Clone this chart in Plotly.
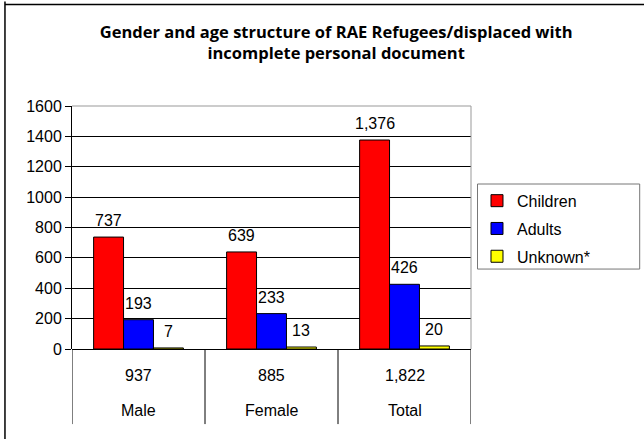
import plotly.graph_objects as go

categories = ["Male", "Female", "Total"]
children = [737, 639, 1376]
adults = [193, 233, 426]
unknown = [7, 13, 20]
series_names = ["Children", "Adults", "Unknown*"]
series_colors = ["#FF0000", "#0000FF", "#FFFF00"]
y_ticks = [0, 200, 400, 600, 800, 1000, 1200, 1400, 1600]

series_values = [children, adults, unknown]
totals = [sum(v) for v in zip(children, adults, unknown)]

W = 0.225
offsets = [-0.3375, -0.1125, 0.1125]
xs = list(range(len(categories)))

fig = go.Figure()
annotations = []
for k, (name, vals, col, off) in enumerate(zip(series_names, series_values, series_colors, offsets)):
    fig.add_trace(go.Bar(
        x=xs, y=vals, name=name, width=W, offset=off, legendgroup=f"g{k}",
        marker=dict(color=col, line=dict(color="black", width=1)),
    ))
    for i, v in enumerate(vals):
        annotations.append(dict(
            x=i + off + W / 2, y=v, xref="x", yref="y",
            text=f"{v:,}", showarrow=False, yanchor="bottom", yshift=6,
            font=dict(family="Liberation Sans, Arial", size=16, color="black"),
        ))

# two-level category labels
for i, (c, t) in enumerate(zip(categories, totals)):
    annotations.append(dict(x=i, y=-0.11, xref="x", yref="paper", text=f"{t:,}",
                            showarrow=False, yanchor="middle",
                            font=dict(family="Liberation Sans, Arial", size=16, color="black")))
    annotations.append(dict(x=i, y=-0.255, xref="x", yref="paper", text=c,
                            showarrow=False, yanchor="middle",
                            font=dict(family="Liberation Sans, Arial", size=16, color="black")))

shapes = []
for b in [-0.5, 0.5, 1.5, 2.5]:
    shapes.append(dict(type="line", xref="x", yref="paper", x0=b, x1=b, y0=0, y1=-0.309,
                       line=dict(color="black", width=1)))
# right/top plot border (gray)
shapes.append(dict(type="line", xref="paper", yref="paper", x0=1, x1=1, y0=0, y1=1,
                   line=dict(color="#999999", width=1)))
shapes.append(dict(type="line", xref="paper", yref="paper", x0=0, x1=1, y0=1, y1=1,
                   line=dict(color="#999999", width=1)))
# outer chart border (left and top visible)
shapes.append(dict(type="line", xref="paper", yref="paper", x0=-0.168, x1=-0.168, y0=-0.5, y1=1.43,
                   line=dict(color="black", width=1.5)))
shapes.append(dict(type="line", xref="paper", yref="paper", x0=-0.168, x1=1.5, y0=1.418, y1=1.418,
                   line=dict(color="black", width=1.5)))
# legend frame
shapes.append(dict(type="rect", xref="paper", yref="paper", x0=1.0163, x1=1.4228, y0=0.329, y1=0.679,
                   line=dict(color="#777777", width=1)))

fig.update_layout(
    width=644, height=439,
    margin=dict(l=72, r=173, t=106, b=90),
    paper_bgcolor="white", plot_bgcolor="white",
    barmode="overlay",
    showlegend=True,
    title=dict(
        text="Gender and age structure of RAE Refugees/displaced with<br>incomplete personal document",
        xref="container", yref="container",
        x=0.522, xanchor="center", y=0.9134, yanchor="middle",
        font=dict(family="Open Sans", size=16.5, color="black", weight="bold"),
    ),
    legend=dict(
        x=1.015, xanchor="left", y=0.68, yanchor="top",
        borderwidth=0, bgcolor="rgba(0,0,0,0)",
        font=dict(family="Liberation Sans, Arial", size=16, color="black"),
        itemwidth=30, tracegroupgap=4,
    ),
    xaxis=dict(range=[-0.5, 2.5], showticklabels=False, ticks="", showgrid=False,
               zeroline=False, showline=False, fixedrange=True),
    yaxis=dict(range=[0, 1600], tickvals=y_ticks, ticks="outside", ticklen=6,
               tickcolor="black", showline=True, linecolor="black", linewidth=1,
               showgrid=True, gridcolor="black", gridwidth=1,
               zeroline=True, zerolinecolor="black", zerolinewidth=1,
               tickfont=dict(family="Liberation Sans, Arial", size=16, color="black")),
    annotations=annotations,
    shapes=shapes,
)

fig.write_html("out.html", config={"displayModeBar": False},
               post_script="document.body.style.margin='0';document.body.style.overflow='hidden';")
